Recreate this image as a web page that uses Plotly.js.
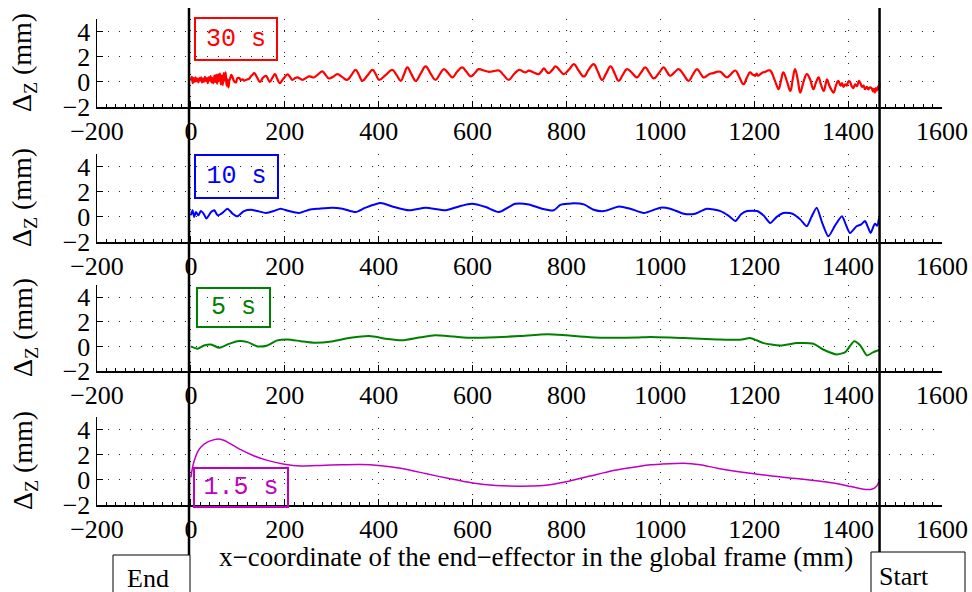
<!DOCTYPE html>
<html>
<head>
<meta charset="utf-8">
<script src="https://cdn.plot.ly/plotly-3.0.1.min.js"></script>
<style>html,body{margin:0;padding:0;background:#fff;}#chart{width:972px;height:592px;}</style>
</head>
<body>
<div id="chart"></div>
<script>
// ---- data ----
const x30 = [0,2,4,6,8,10,12,14,16,18,20,22,24,26,28,30,32,34,36,38,40,42,44,46,48,50,52,54,56,58,60,62,64,66,68,70,72,74,76,78,80,82,84,86,89,92,96,99,103,106,110,113,117,121,124,128,131,135,141,147,153,160,164,168,174,179,184,189,197,206,211,216,222,227,233,238,245,252,257,262,271,280,287,294,303,312,322,333,342,351,358,365,376,387,394,401,415,429,438,447,454,461,470,479,490,500,510,521,530,539,548,557,567,578,587,596,605,613,624,635,645,656,667,677,688,699,706,713,720,730,741,747,752,757,762,770,777,786,794,806,816,826,837,847,858,867,876,885,894,903,911,920,929,940,950,959,968,977,986,997,1007,1014,1021,1030,1039,1050,1060,1069,1078,1085,1092,1100,1106,1113,1120,1128,1135,1142,1150,1160,1168,1177,1184,1191,1196,1202,1205,1208,1213,1218,1224,1229,1234,1243,1248,1252,1257,1262,1270,1277,1282,1287,1293,1298,1305,1312,1319,1326,1332,1337,1342,1348,1352,1355,1360,1364,1369,1374,1379,1384,1387,1390,1394,1397,1401,1404,1407,1411,1415,1419,1423,1426,1430,1433,1436,1440,1443,1446,1450,1453,1455,1457,1459,1461,1464,1466,1467];
const y30 = [0.1,0.4,-0.1,0.3,0.0,0.35,0.05,0.25,-0.05,0.3,0.1,0.35,-0.05,0.25,0.0,0.4,0.05,0.3,-0.1,0.35,0.1,0.45,-0.05,0.3,-0.1,0.5,0.0,0.55,-0.15,0.6,0.1,0.65,-0.2,0.5,-0.25,0.7,0.1,0.75,-0.3,0.2,-0.45,0.1,0.3,0.55,0.35,0.05,-0.05,0.3,0.3,0.15,0.2,0.1,0.15,0.2,0.25,0.45,0.55,0.69,0.35,0.0,0.3,0.48,0.25,0.0,0.35,0.61,0.25,-0.1,0.25,0.6,0.4,0.16,0.3,0.35,0.25,0.16,0.3,0.43,0.4,0.35,0.6,0.83,0.55,0.27,0.4,0.61,0.4,0.16,0.55,0.96,0.55,0.08,0.5,0.96,0.6,0.16,0.55,0.96,0.55,0.08,0.6,1.15,0.6,0.08,0.7,1.23,0.7,0.16,0.6,1.01,0.7,0.35,0.8,1.15,0.8,0.43,0.7,1.01,0.9,0.8,0.85,0.9,0.5,0.16,0.6,0.96,0.85,0.75,0.9,0.75,0.61,0.85,1.07,0.85,0.69,0.95,1.23,0.9,0.61,1.0,1.41,0.9,0.43,0.95,1.41,0.8,0.16,0.7,1.23,0.65,0.08,0.55,1.01,0.7,0.35,0.75,1.15,0.7,0.27,0.7,1.15,0.8,0.48,0.75,1.01,0.55,0.08,0.55,1.01,0.7,0.35,0.5,0.65,0.69,0.8,0.8,0.55,0.35,0.6,0.9,0.4,-0.19,0.3,0.75,0.6,0.48,0.65,0.5,0.61,0.75,0.8,0.9,0.9,0.2,-0.3,-0.59,0.1,0.75,0.0,-0.72,0.2,1.01,0.1,-0.85,0.0,0.61,0.2,-0.59,0.0,0.35,-0.2,-0.72,-0.2,0.2,-0.3,-0.6,-0.85,-0.3,0.08,-0.3,-0.1,-0.4,-0.2,-0.3,0.05,0.0,-0.3,-0.5,-0.2,-0.35,0.08,-0.1,-0.4,-0.3,-0.59,-0.4,-0.6,-0.45,-0.5,-0.75,-0.55,-0.85,-0.5,-0.7,-0.35,-0.6,-0.1];

const x10 = [0,3.5,7,10.6,16,21,28,33,43,50,57,67,78,89,99,113,128,142,160,177,191,209,230,252,273,301,323,351,372,404,429,465,500,543,571,599,628,656,691,720,748,773,787,805,816,837,858,880,912,936,965,1000,1021,1050,1074,1099,1128,1145,1160,1172,1185,1206,1220,1234,1248,1262,1275,1284,1298,1312,1322,1333,1345,1358,1372,1387,1395,1404,1418,1428,1436,1442,1448,1457,1462,1466];
const y10 = [0.12,0.52,-0.01,0.38,0.12,0.46,0.2,-0.14,0.38,0.52,0.12,0.31,0.65,0.25,0.04,0.46,0.57,0.46,0.31,0.46,0.65,0.46,0.31,0.57,0.65,0.73,0.65,0.38,0.73,1.1,0.83,0.52,0.73,0.52,0.83,1.04,0.78,0.38,1.04,0.99,0.65,0.52,0.95,1.05,1.08,0.99,0.57,0.46,0.83,0.65,0.31,0.73,0.65,0.25,0.25,0.65,0.46,0.1,-0.33,0.2,0.46,0.46,0.1,-0.49,0.0,0.31,0.3,0.2,-0.2,-0.75,0.0,0.73,-0.5,-1.55,-0.7,0.04,-0.6,-1.28,-0.75,-0.6,-0.33,-0.8,-1.28,-0.54,-0.7,-0.07];

const x5 = [0,14,28,43,60,78,99,121,142,163,184,206,234,262,300,340,380,420,450,490,520,560,600,650,700,760,800,850,900,950,979,1050,1121,1170,1191,1205,1220,1255,1291,1326,1348,1376,1394,1413,1426,1440,1454,1468];
const y5 = [0,-0.19,0.08,0.16,-0.11,0.16,0.43,0.35,0,0.08,0.49,0.57,0.43,0.3,0.4,0.7,0.85,0.6,0.5,0.75,0.9,0.8,0.7,0.75,0.85,1.0,0.9,0.75,0.7,0.72,0.76,0.68,0.57,0.54,0.68,0.5,0.27,0.08,0.27,0.22,-0.27,-0.65,-0.46,0.43,0.08,-0.73,-0.46,-0.27];

const x15 = [0,3,7,14,21,35,50,57,70,78,106,135,163,199,234,277,320,360,400,450,500,550,600,650,700,750,800,850,900,950,979,1000,1050,1085,1121,1191,1262,1333,1390,1433,1450,1461,1468];
const y15 = [0.2,0.9,1.5,2.2,2.6,3.0,3.2,3.25,3.15,3.0,2.4,1.9,1.55,1.25,1.1,1.15,1.2,1.22,1.15,0.9,0.5,0.1,-0.25,-0.45,-0.5,-0.45,-0.15,0.3,0.75,1.05,1.2,1.25,1.33,1.2,0.93,0.53,0.21,-0.08,-0.4,-0.75,-0.75,-0.48,0.05];

const labels = ['30 s','10 s','5 s','1.5 s'];
const colors = ['#ff0000','#0000ff','#008000','#c000c0'];
const xTicks = [-200,0,200,400,600,800,1000,1200,1400,1600];
const yTicks = [-2,0,2,4];
const xEnd = -4, xStart = 1467;
const xTitle = 'x\u2212coordinate of the end\u2212effector in the global frame (mm)';
const yTitle = '\u0394<sub>Z</sub> (mm)';

// ---- layout helpers ----
const W = 972, H = 592;
const px = v => v / W;
const py = v => 1 - v / H;
const panels = [[19,107],[154,242],[285,371],[417,505]]; // top,bottom in px
const xDom = [px(97), px(942)];
const serif = 'Liberation Serif, serif';
const mono = 'Liberation Mono, monospace';
const FS = 26;

const series = [[x30,y30,2.2,1.2],[x10,y10,2,0.6],[x5,y5,2,0.6],[x15,y15,1.5,0.6]];
const traces = series.map((s,i) => ({
  x: s[0], y: s[1], type: 'scatter', mode: 'lines',
  line: {color: colors[i], width: s[2], shape: 'spline', smoothing: s[3]},
  xaxis: i===0 ? 'x' : 'x'+(i+1), yaxis: i===0 ? 'y' : 'y'+(i+1),
  hoverinfo: 'skip', showlegend: false
}));

const layout = {
  width: W, height: H, autosize: false,
  margin: {l:0, r:0, t:0, b:0},
  paper_bgcolor: '#fff', plot_bgcolor: 'rgba(0,0,0,0)',
  showlegend: false,
  shapes: [], annotations: []
};

panels.forEach((p,i) => {
  const sfx = i===0 ? '' : String(i+1);
  layout['xaxis'+sfx] = {
    domain: xDom, anchor: 'y'+sfx, range: [-200,1600],
    tickvals: xTicks, ticktext: xTicks.map(v => String(v).replace('-','\u2212')),
    showline: true, linecolor: '#000', linewidth: 1.5,
    ticks: 'inside', ticklen: 6, tickwidth: 1, tickcolor: '#000',
    showgrid: true, gridcolor: '#222', gridwidth: 1, griddash: '1px,10px',
    zeroline: false, tickfont: {family: serif, size: FS, color: '#000'},
    minor: {dtick: 20, tick0: 0, ticks: 'inside', ticklen: 3, tickcolor: '#000', showgrid: false},
    fixedrange: true
  };
  layout['yaxis'+sfx] = {
    domain: [py(p[1]), py(p[0])], anchor: 'x'+sfx, range: [-2,5],
    tickvals: yTicks, ticktext: yTicks.map(v => String(v).replace('-','\u2212')),
    showline: true, linecolor: '#000', linewidth: 1.5,
    ticks: 'inside', ticklen: 6, tickwidth: 1, tickcolor: '#000',
    showgrid: true, gridcolor: '#222', gridwidth: 1, griddash: '1px,10px',
    zeroline: false, tickfont: {family: serif, size: FS, color: '#000'},
    fixedrange: true
  };
  layout.annotations.push({
    xref: 'paper', yref: 'paper', x: px(24), y: py((p[0]+p[1])/2),
    text: yTitle, textangle: -90, showarrow: false,
    font: {family: serif, size: 28, color: '#000'},
    xanchor: 'center', yanchor: 'middle'
  });
});

// labelled boxes
const boxes = [[195,277,18,60],[195,278,155,198],[197,270,288,327],[194,288,468,507]];
boxes.forEach((b,i) => {
  layout.annotations.push({
    xref: 'paper', yref: 'paper', x: px((b[0]+b[1])/2), y: py((b[2]+b[3])/2),
    xanchor: 'center', yanchor: 'middle', showarrow: false,
    text: labels[i], font: {family: mono, size: 25, color: colors[i]},
    bordercolor: colors[i], borderwidth: 2, borderpad: 0,
    width: b[1]-b[0]-2, height: b[3]-b[2]-2, bgcolor: 'rgba(255,255,255,0)'
  });
});

// x title
layout.annotations.push({
  xref: 'paper', yref: 'paper', x: px(536), y: py(557), xanchor: 'center', yanchor: 'middle',
  showarrow: false, text: xTitle, font: {family: serif, size: 27, color: '#000'}
});

// End / Start markers
layout.shapes.push(
  {type: 'line', xref: 'x4', yref: 'paper', x0: xEnd, x1: xEnd, y0: py(555), y1: py(8), line: {color: '#000', width: 2.5}},
  {type: 'line', xref: 'x4', yref: 'paper', x0: xStart, x1: xStart, y0: py(552), y1: py(8), line: {color: '#000', width: 2.5}},
  {type: 'rect', xref: 'paper', yref: 'paper', x0: px(113), x1: px(190), y0: py(600), y1: py(555), line: {color: '#000', width: 1}, fillcolor: 'rgba(0,0,0,0)'},
  {type: 'rect', xref: 'paper', yref: 'paper', x0: px(871), x1: px(965), y0: py(600), y1: py(552), line: {color: '#000', width: 1}, fillcolor: 'rgba(0,0,0,0)'}
);
layout.annotations.push(
  {xref: 'paper', yref: 'paper', x: px(148), y: py(578), xanchor: 'center', yanchor: 'middle', showarrow: false, text: 'End', font: {family: serif, size: 26, color: '#000'}},
  {xref: 'paper', yref: 'paper', x: px(904), y: py(576), xanchor: 'center', yanchor: 'middle', showarrow: false, text: 'Start', font: {family: serif, size: 26, color: '#000'}}
);

Plotly.newPlot('chart', traces, layout, {displayModeBar: false, staticPlot: true});
</script>
</body>
</html>
